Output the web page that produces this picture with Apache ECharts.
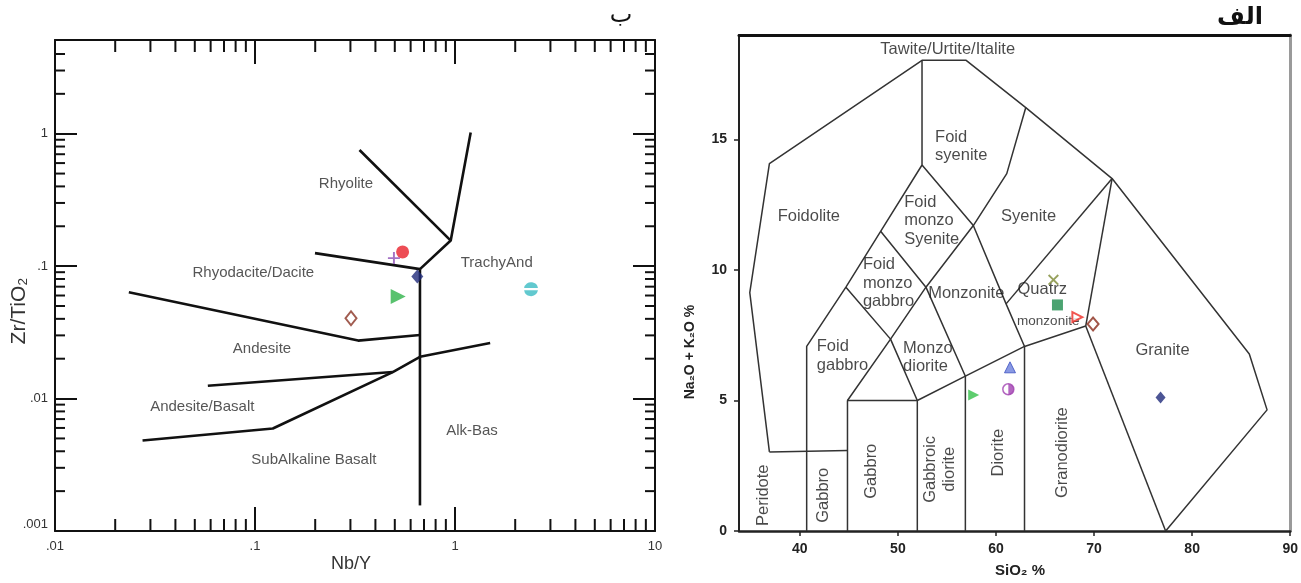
<!DOCTYPE html>
<html><head><meta charset="utf-8">
<script src="https://cdn.jsdelivr.net/npm/echarts@6/dist/echarts.min.js"></script>
<style>html,body{margin:0;padding:0;background:#fff}#c{width:1301px;height:583px}</style>
</head><body><div id="c"></div>
<script>
// ---------- Left panel: Nb/Y vs Zr/TiO2 (log-log) ----------
const WF_X_MIN = 0.01, WF_X_MAX = 10, WF_Y_MIN = 0.001, WF_Y_MAX = 5.1;
const wfXTicks = [0.01, 0.1, 1, 10];
const wfXTickLabels = ['.01', '.1', '1', '10'];
const wfYTicks = [0.001, 0.01, 0.1, 1];
const wfYTickLabels = ['.001', '.01', '.1', '1'];
const minorMultipliers = [2, 3, 4, 5, 6, 7, 8, 9];
const wfXDecades = [0.01, 0.1, 1];
const wfYDecades = [0.001, 0.01, 0.1, 1];

const wfRhyoliteLine = [[0.333, 0.753], [0.952, 0.156]];
const wfTrachyLine = [[0.668, 0.0949], [0.952, 0.156], [1.198, 1.02]];
const wfDaciteTop = [[0.1995, 0.1254], [0.668, 0.0949]];
const wfVertical = [[0.668, 0.0949], [0.668, 0.00156]];
const wfAndesiteTop = [[0.0234, 0.0635], [0.328, 0.0274], [0.668, 0.0302]];
const wfAndBasTop = [[0.0581, 0.01248], [0.4885, 0.01585]];
const wfBasaltLine = [[0.0274, 0.00483], [0.1228, 0.00594], [0.4885, 0.01585], [0.668, 0.02066], [1.499, 0.02624]];

const wfLabelNames = ['Rhyolite', 'Rhyodacite/Dacite', 'TrachyAnd', 'Andesite', 'Andesite/Basalt', 'Alk-Bas', 'SubAlkaline Basalt'];
const wfLabelX = [0.285, 0.0981, 1.617, 0.1084, 0.0545, 1.216, 0.197];
const wfLabelY = [0.421, 0.0883, 0.106, 0.0238, 0.00864, 0.00568, 0.00343];

const wfSampleX = [0.547, 0.495, 0.648, 0.520, 0.302, 2.40];
const wfSampleY = [0.128, 0.115, 0.0834, 0.0589, 0.0404, 0.067];

// ---------- Right panel: TAS (SiO2 vs Na2O+K2O) ----------
const TAS_X_MIN = 33.8, TAS_X_MAX = 90, TAS_Y_MIN = 0, TAS_Y_MAX = 19;
const tasXTicks = [40, 50, 60, 70, 80, 90];
const tasYTicks = [0, 5, 10, 15];

const tasOuter = [[36.9, 3.03], [34.9, 9.13], [36.9, 14.07], [52.46, 18.03], [56.96, 18.03], [63.04, 16.22], [71.84, 13.5], [85.83, 6.78], [87.64, 4.64], [77.3, 0]];
const tasPeridotTop = [[36.9, 3.03], [44.86, 3.08]];
const tasFoidLeft = [[40.7, 0], [40.7, 7.07], [44.7, 9.34], [48.24, 11.48], [52.46, 14.02], [52.46, 18.03]];
const tasGabbroBox = [[44.86, 0], [44.86, 5], [51.98, 5], [51.98, 0]];
const tasMonzoDiag = [[44.86, 5], [49.25, 7.35], [52.86, 9.34], [57.69, 11.7], [61.1, 13.69], [63.04, 16.22]];
const tasFoidGabbroRight = [[44.7, 9.34], [49.25, 7.35], [51.98, 5]];
const tasDioriteLeft = [[48.24, 11.48], [52.86, 9.34], [56.88, 5.93], [56.88, 0]];
const tasMonzoniteRight = [[52.46, 14.02], [57.69, 11.7], [61.03, 8.7], [62.91, 7.07], [62.91, 0]];
const tasDioriteTop = [[51.98, 5], [56.88, 5.93], [62.91, 7.07], [69.15, 7.85]];
const tasQuartzMonzLeft = [[61.03, 8.7], [71.84, 13.5]];
const tasGraniteLeft = [[69.15, 7.85], [71.84, 13.5]];
const tasGraniteBottom = [[69.15, 7.85], [77.3, 0]];

const tasLabelNames = ['Tawite/Urtite/Italite', 'Foidolite', 'Syenite', 'Monzonite', 'Quatrz', 'Granite'];
const tasLabelX = [55.08, 40.92, 63.32, 56.97, 64.72, 76.98];
const tasLabelY = [18.46, 12.05, 12.05, 9.10, 9.24, 6.92];
const tasSmallLabelNames = ['monzonite'];
const tasSmallLabelX = [65.33];
const tasSmallLabelY = [8.02];
const tasStackNames = ['Foid\nsyenite', 'Foid\nmonzo\nSyenite', 'Foid\nmonzo\ngabbro', 'Foid\ngabbro', 'Monzo\ndiorite'];
const tasStackX = [53.79, 50.65, 46.43, 41.73, 50.53];
const tasStackY = [14.74, 11.88, 9.49, 6.70, 6.65];
const tasVerticalNames = ['Peridote', 'Gabbro', 'Gabbro', 'Gabbroic\ndiorite', 'Diorite', 'Granodiorite'];
const tasVerticalX = [36.26, 42.41, 47.32, 54.27, 60.30, 66.73];
const tasVerticalY = [1.37, 1.37, 2.29, 2.36, 3.0, 3.0];

const tasSampleX = [65.86, 66.27, 68.30, 69.90, 61.43, 61.26, 57.73, 76.78];
const tasSampleY = [9.62, 8.66, 8.19, 7.93, 6.27, 5.43, 5.21, 5.11];

// ---------- build ----------
const FONT = "'Liberation Sans', Arial, 'DejaVu Sans', sans-serif";
const wfXMinor = [];
wfXDecades.forEach(d => minorMultipliers.forEach(m => wfXMinor.push(m * d)));
const wfYMinor = [];
wfYDecades.forEach(d => minorMultipliers.forEach(m => { if (m * d < WF_Y_MAX * 0.97) wfYMinor.push(m * d); }));

function logLabel(ticks, labels, raiseFirst) {
  return function (v) {
    const l = Math.log10(v);
    for (let i = 0; i < ticks.length; i++) {
      if (Math.abs(Math.log10(ticks[i]) - l) < 1e-6) {
        if (raiseFirst && i === 0) return '{low|' + labels[i] + '}';
        return labels[i];
      }
    }
    return '';
  };
}

const series = [];
const wfLineStyle = { color: '#111', width: 2.6 };
[wfRhyoliteLine, wfTrachyLine, wfDaciteTop, wfVertical, wfAndesiteTop, wfAndBasTop, wfBasaltLine].forEach(d => {
  series.push({ type: 'line', xAxisIndex: 0, yAxisIndex: 0, data: d, symbol: 'none', lineStyle: wfLineStyle, silent: true, z: 2, clip: false });
});
const tasLineStyle = { color: '#333', width: 1.5 };
[tasOuter, tasPeridotTop, tasFoidLeft, tasGabbroBox, tasMonzoDiag, tasFoidGabbroRight, tasDioriteLeft, tasMonzoniteRight, tasDioriteTop, tasQuartzMonzLeft, tasGraniteLeft, tasGraniteBottom].forEach(d => {
  series.push({ type: 'line', xAxisIndex: 2, yAxisIndex: 2, data: d, symbol: 'none', lineStyle: tasLineStyle, silent: true, z: 2, clip: false });
});

// minor ticks (left panel) drawn through the log axes
series.push({
  type: 'custom', xAxisIndex: 0, yAxisIndex: 0, silent: true, z: 3, clip: false,
  data: wfXMinor.map(v => [v, WF_Y_MIN]),
  renderItem: function (params, api) {
    const v = api.value(0);
    const b = api.coord([v, WF_Y_MIN]);
    const t = api.coord([v, WF_Y_MAX]);
    const st = { stroke: '#111', lineWidth: 2 };
    return { type: 'group', children: [
      { type: 'line', shape: { x1: b[0], y1: b[1], x2: b[0], y2: b[1] - 12 }, style: st },
      { type: 'line', shape: { x1: t[0], y1: t[1], x2: t[0], y2: t[1] + 12 }, style: st }
    ] };
  }
});
series.push({
  type: 'custom', xAxisIndex: 0, yAxisIndex: 0, silent: true, z: 3, clip: false,
  data: wfYMinor.map(v => [WF_X_MIN, v]),
  renderItem: function (params, api) {
    const v = api.value(1);
    const l = api.coord([WF_X_MIN, v]);
    const r = api.coord([WF_X_MAX, v]);
    const st = { stroke: '#111', lineWidth: 2 };
    return { type: 'group', children: [
      { type: 'line', shape: { x1: l[0], y1: l[1], x2: l[0] + 10, y2: l[1] }, style: st },
      { type: 'line', shape: { x1: r[0], y1: r[1], x2: r[0] - 10, y2: r[1] }, style: st }
    ] };
  }
});

// region labels
function labelSeries(xi, yi, names, xs, ys, label) {
  return {
    type: 'scatter', xAxisIndex: xi, yAxisIndex: yi, silent: true, z: 4,
    symbolSize: 1, itemStyle: { color: 'rgba(0,0,0,0)' },
    data: names.map((n, i) => ({ name: n, value: [xs[i], ys[i]] })),
    label: Object.assign({ show: true, position: 'inside', formatter: '{b}', fontFamily: FONT, color: '#1c1c1c' }, label)
  };
}
series.push(labelSeries(0, 0, wfLabelNames, wfLabelX, wfLabelY, { fontSize: 15, color: '#2a2a2a' }));
series.push(labelSeries(2, 2, tasLabelNames, tasLabelX, tasLabelY, { fontSize: 16.5 }));
series.push(labelSeries(2, 2, tasSmallLabelNames, tasSmallLabelX, tasSmallLabelY, { fontSize: 13.5 }));
series.push(labelSeries(2, 2, tasStackNames, tasStackX, tasStackY, { fontSize: 16.5, align: 'left', lineHeight: 18.5 }));
series.push(labelSeries(2, 2, tasVerticalNames, tasVerticalX, tasVerticalY, { fontSize: 16.5, rotate: 90, lineHeight: 18.5 }));

// sample markers
const wfMarkers = [
  { symbol: 'circle', symbolSize: 13, itemStyle: { color: '#e8212b' } },
  { symbol: 'path://M4.2,0H5.8V4.2H10V5.8H5.8V10H4.2V5.8H0V4.2H4.2Z', symbolSize: 12, itemStyle: { color: '#8d4fb5' } },
  { symbol: 'diamond', symbolSize: [12, 14], itemStyle: { color: '#1f2a7a' } },
  { symbol: 'triangle', symbolSize: 15, symbolRotate: -90, itemStyle: { color: '#2fb34a' } },
  { symbol: 'diamond', symbolSize: [11, 14], itemStyle: { color: '#fff', borderColor: '#8a3324', borderWidth: 2 } },
  { symbol: 'path://M0.113,8.5A10,10,0,0,1,19.887,8.5ZM19.887,11.5A10,10,0,0,1,0.113,11.5Z', symbolSize: 14, symbolKeepAspect: true, itemStyle: { color: '#3bbcc3' } }
];
wfMarkers.forEach((m, i) => {
  series.push(Object.assign({ type: 'scatter', xAxisIndex: 0, yAxisIndex: 0, silent: true, z: 6, data: [[wfSampleX[i], wfSampleY[i]]] }, m));
});
const tasMarkers = [
  { symbol: 'path://M1.2,0L5,3.8L8.8,0L10,1.2L6.2,5L10,8.8L8.8,10L5,6.2L1.2,10L0,8.8L3.8,5L0,1.2Z', symbolSize: 11, itemStyle: { color: '#7d8a34' } },
  { symbol: 'rect', symbolSize: 11, itemStyle: { color: '#1e8c4e' } },
  { symbol: 'triangle', symbolSize: 10, symbolRotate: -90, itemStyle: { color: '#fff', borderColor: '#ee2b24', borderWidth: 2 } },
  { symbol: 'diamond', symbolSize: [11, 13], itemStyle: { color: '#fff', borderColor: '#8a2a1a', borderWidth: 2 } },
  { symbol: 'triangle', symbolSize: 11, itemStyle: { color: '#6b7fdc', borderColor: '#3a4fc0', borderWidth: 1 } },
  { symbol: 'circle', symbolSize: 11, itemStyle: { color: '#fff', borderColor: '#a040b0', borderWidth: 1.5 } },
  { symbol: 'triangle', symbolSize: 11, symbolRotate: -90, itemStyle: { color: '#35c04a' } },
  { symbol: 'diamond', symbolSize: [10, 12], itemStyle: { color: '#1f2a7a' } }
];
tasMarkers.forEach((m, i) => {
  series.push(Object.assign({ type: 'scatter', xAxisIndex: 2, yAxisIndex: 2, silent: true, z: 6, data: [[tasSampleX[i], tasSampleY[i]]] }, m));
});
// half fill of the purple circle marker
series.push({ type: 'scatter', xAxisIndex: 2, yAxisIndex: 2, silent: true, z: 7, data: [[tasSampleX[5], tasSampleY[5]]],
  symbol: 'path://M10,0A10,10,0,0,1,10,20ZM0,10Z', symbolSize: 11, symbolKeepAspect: true, itemStyle: { color: '#a040b0' } });

const option = {
  animation: false,
  backgroundColor: '#fff',
  textStyle: { fontFamily: FONT },
  grid: [
    { left: 55, right: 646, top: 40, bottom: 52 },
    { left: 739, right: 10, top: 35, bottom: 52 }
  ],
  xAxis: [
    { type: 'log', gridIndex: 0, min: WF_X_MIN, max: WF_X_MAX, position: 'bottom',
      axisLine: { show: true, onZero: false, lineStyle: { color: '#111', width: 2 } },
      axisTick: { show: true, inside: true, length: 24, lineStyle: { color: '#111', width: 2 } },
      axisLabel: { formatter: logLabel(wfXTicks, wfXTickLabels, false), color: '#333', fontSize: 13, margin: 9, showMinLabel: true, showMaxLabel: true },
      splitLine: { show: false } },
    { type: 'log', gridIndex: 0, min: WF_X_MIN, max: WF_X_MAX, position: 'top',
      axisLine: { show: true, onZero: false, lineStyle: { color: '#111', width: 2 } },
      axisTick: { show: true, inside: true, length: 24, lineStyle: { color: '#111', width: 2 } },
      axisLabel: { show: false }, splitLine: { show: false } },
    { type: 'value', gridIndex: 1, min: TAS_X_MIN, max: TAS_X_MAX, position: 'bottom',
      axisLine: { show: true, onZero: false, lineStyle: { color: '#222', width: 2.5 } },
      axisTick: { show: true, inside: false, length: 5, customValues: tasXTicks, lineStyle: { color: '#222', width: 1.5 } },
      axisLabel: { customValues: tasXTicks, color: '#222', fontSize: 14, fontWeight: 'bold', margin: 11 },
      splitLine: { show: false } },
    { type: 'value', gridIndex: 1, min: TAS_X_MIN, max: TAS_X_MAX, position: 'top',
      axisLine: { show: true, onZero: false, lineStyle: { color: '#111', width: 3 } },
      axisTick: { show: false }, axisLabel: { show: false }, splitLine: { show: false } }
  ],
  yAxis: [
    { type: 'log', gridIndex: 0, min: WF_Y_MIN, max: WF_Y_MAX, position: 'left',
      axisLine: { show: true, onZero: false, lineStyle: { color: '#111', width: 2 } },
      axisTick: { show: true, inside: true, length: 22, lineStyle: { color: '#111', width: 2 } },
      axisLabel: { formatter: logLabel(wfYTicks, wfYTickLabels, true), color: '#333', fontSize: 13, margin: 7, showMinLabel: true,
        rich: { low: { fontSize: 13, color: '#333', padding: [0, 0, 14, 0] } } },
      splitLine: { show: false } },
    { type: 'log', gridIndex: 0, min: WF_Y_MIN, max: WF_Y_MAX, position: 'right',
      axisLine: { show: true, onZero: false, lineStyle: { color: '#111', width: 2 } },
      axisTick: { show: true, inside: true, length: 22, lineStyle: { color: '#111', width: 2 } },
      axisLabel: { show: false }, splitLine: { show: false } },
    { type: 'value', gridIndex: 1, min: TAS_Y_MIN, max: TAS_Y_MAX, position: 'left',
      axisLine: { show: true, onZero: false, lineStyle: { color: '#222', width: 2 } },
      axisTick: { show: true, inside: false, length: 5, customValues: tasYTicks, lineStyle: { color: '#222', width: 1.5 } },
      axisLabel: { customValues: tasYTicks, color: '#222', fontSize: 14, fontWeight: 'bold', margin: 12 },
      splitLine: { show: false } },
    { type: 'value', gridIndex: 1, min: TAS_Y_MIN, max: TAS_Y_MAX, position: 'right',
      axisLine: { show: true, onZero: false, lineStyle: { color: '#9a9a9a', width: 3 } },
      axisTick: { show: false }, axisLabel: { show: false }, splitLine: { show: false } }
  ],
  graphic: [
    { type: 'text', x: 621, y: 16, style: { text: 'ب', font: "24px 'DejaVu Sans', sans-serif", fill: '#111', align: 'center', verticalAlign: 'middle', textAlign: 'center', textVerticalAlign: 'middle' } },
    { type: 'text', x: 1240, y: 18, style: { text: 'الف', font: "bold 24px 'DejaVu Sans', sans-serif", fill: '#111', align: 'center', verticalAlign: 'middle', textAlign: 'center', textVerticalAlign: 'middle' } },
    { type: 'text', x: 19, y: 311, rotation: Math.PI / 2, style: { text: 'Zr/TiO₂', font: "21px 'Liberation Sans', Arial, 'DejaVu Sans', sans-serif", fill: '#333', align: 'center', verticalAlign: 'middle', textAlign: 'center', textVerticalAlign: 'middle' } },
    { type: 'text', x: 351, y: 564, style: { text: 'Nb/Y', font: "18px 'Liberation Sans', Arial, sans-serif", fill: '#333', align: 'center', verticalAlign: 'middle', textAlign: 'center', textVerticalAlign: 'middle' } },
    { type: 'text', x: 1020, y: 571, style: { text: 'SiO₂ %', font: "bold 15px 'Liberation Sans', Arial, 'DejaVu Sans', sans-serif", fill: '#222', align: 'center', verticalAlign: 'middle', textAlign: 'center', textVerticalAlign: 'middle' } },
    { type: 'text', x: 690, y: 352, rotation: Math.PI / 2, style: { text: 'Na₂O + K₂O %', font: "bold 14px 'Liberation Sans', Arial, 'DejaVu Sans', sans-serif", fill: '#222', align: 'center', verticalAlign: 'middle', textAlign: 'center', textVerticalAlign: 'middle' } }
  ],
  series: series
};
const chart = echarts.init(document.getElementById('c'));
chart.setOption(option);
</script>
</body></html>
